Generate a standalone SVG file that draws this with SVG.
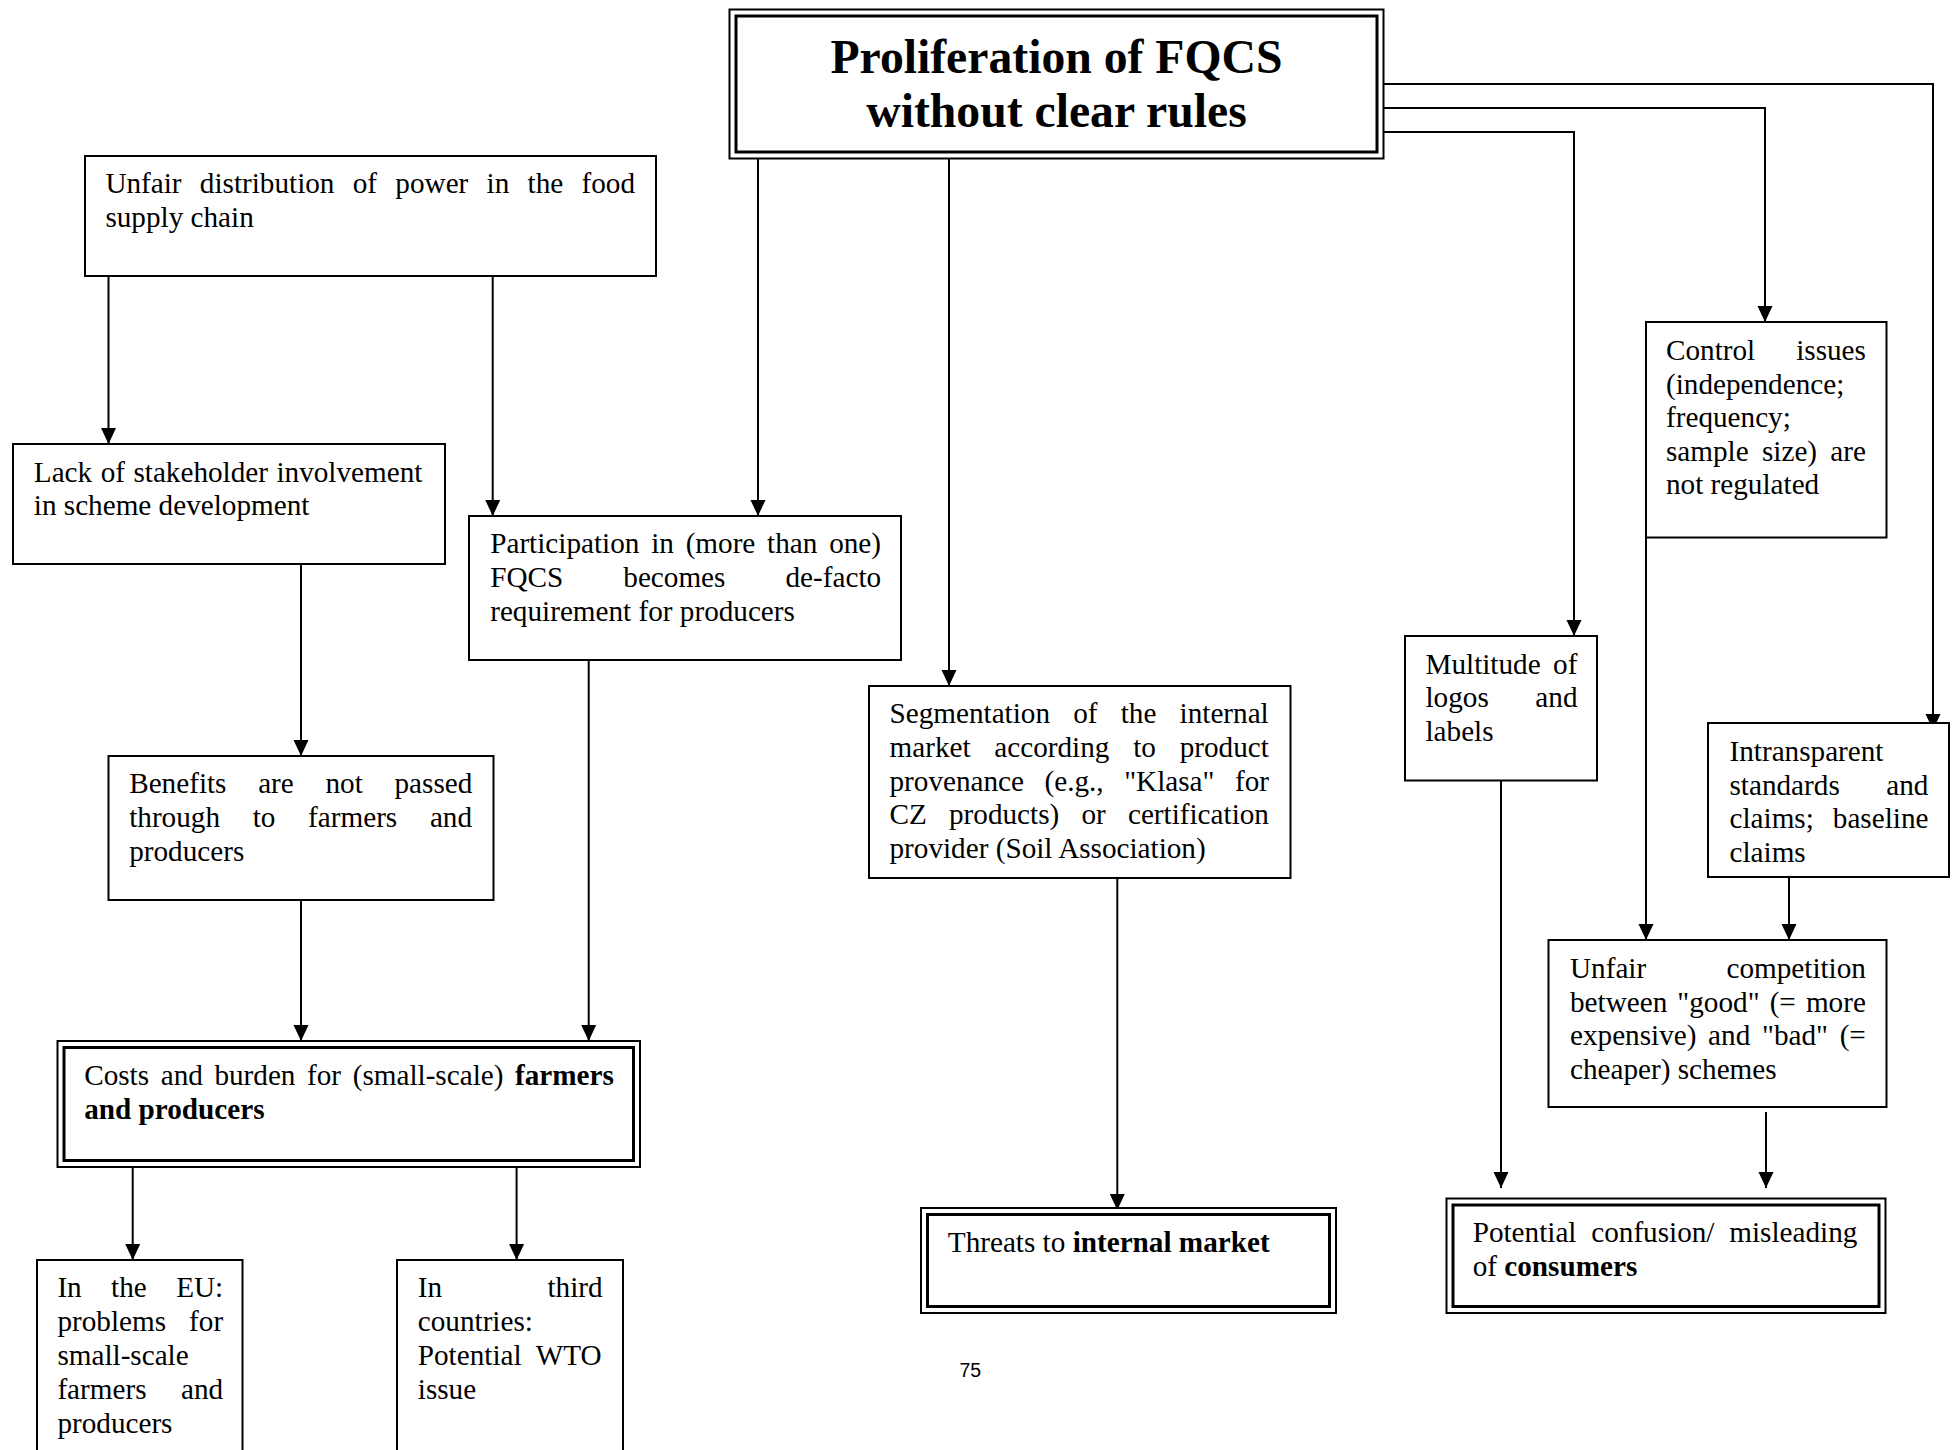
<svg xmlns="http://www.w3.org/2000/svg" width="1955" height="1450" viewBox="0 0 1955 1450">
<style>
.box{fill:#fff;stroke:#000;stroke-width:2}
.inner{fill:none;stroke:#000;stroke-width:3}
.t{font-family:"Liberation Serif","Times New Roman",serif;font-size:29.2px;fill:#000}
.b{font-weight:bold}
.title{font-family:"Liberation Serif","Times New Roman",serif;font-size:47.7px;font-weight:bold;text-anchor:middle;fill:#000}
.conn{fill:none;stroke:#000;stroke-width:2;marker-end:url(#arr)}
.pg{font-family:"Liberation Sans",Arial,sans-serif;font-size:19.5px;fill:#000}
</style>
<defs>
<marker id="arr" markerUnits="userSpaceOnUse" markerWidth="16" markerHeight="16" viewBox="0 0 16 16" refX="16" refY="8" orient="auto">
<path d="M0,0.5 L16,8 L0,15.5 z" fill="#000"/>
</marker>
</defs>
<rect width="1955" height="1450" fill="#fff"/>

<g id="connectors">
<path class="conn" d="M108.5,276 V444"/>
<path class="conn" d="M492.7,276 V516"/>
<path class="conn" d="M758,158 V516"/>
<path class="conn" d="M949,158 V686"/>
<path class="conn" d="M1384,132 H1574 V636"/>
<path class="conn" d="M1384,108 H1765 V322"/>
<path class="conn" d="M1384,84 H1933 V730"/>
<path class="conn" d="M301,564 V756"/>
<path class="conn" d="M301,900 V1041"/>
<path class="conn" d="M588.7,660 V1041"/>
<path class="conn" d="M132.7,1167 V1260"/>
<path class="conn" d="M516.6,1167 V1260"/>
<path class="conn" d="M1117.3,878 V1210"/>
<path class="conn" d="M1501,780 V1188"/>
<path class="conn" d="M1646,537 V940"/>
<path class="conn" d="M1789,877 V940"/>
<path class="conn" d="M1766,1112 V1188"/>
</g>

<g id="n-title">
<rect class="box" x="729.5" y="9.5" width="654" height="149"/>
<rect class="inner" x="736" y="16" width="641" height="136"/>
<text class="title" x="1056.5" y="73">Proliferation of FQCS</text>
<text class="title" x="1056.5" y="127">without clear rules</text>
</g>

<g id="n-unfair-power">
<rect class="box" x="85" y="156" width="571" height="120"/>
<text class="t" x="105.4" y="193.3" style="word-spacing:11px">Unfair distribution of power in the food</text>
<text class="t" x="105.4" y="227">supply chain</text>
</g>

<g id="n-lack">
<rect class="box" x="13" y="444" width="432" height="120"/>
<text class="t" x="33.8" y="481.7" style="word-spacing:1.2px">Lack of stakeholder involvement</text>
<text class="t" x="33.8" y="515.3">in scheme development</text>
</g>

<g id="n-participation">
<rect class="box" x="469" y="516" width="432" height="144"/>
<text class="t" x="490.2" y="553.3" style="word-spacing:4.5px">Participation in (more than one)</text>
<text class="t" x="490.2" y="587" style="word-spacing:52.8px">FQCS becomes de-facto</text>
<text class="t" x="490.2" y="620.5">requirement for producers</text>
</g>

<g id="n-benefits">
<rect class="box" x="108.5" y="756" width="385" height="144"/>
<text class="t" x="129.2" y="793.3" style="word-spacing:24.4px">Benefits are not passed</text>
<text class="t" x="129.2" y="827" style="word-spacing:25.4px">through to farmers and</text>
<text class="t" x="129.2" y="860.5">producers</text>
</g>

<g id="n-costs">
<rect class="box" x="57.5" y="1041" width="582.5" height="126"/>
<rect class="inner" x="64" y="1047.5" width="569.5" height="113"/>
<text class="t" x="84.2" y="1085" style="word-spacing:4.3px">Costs and burden for (small-scale) <tspan class="b">farmers</tspan></text>
<text class="t b" x="84.2" y="1119">and producers</text>
</g>

<g id="n-eu">
<rect class="box" x="37" y="1260" width="205.5" height="220"/>
<text class="t" x="57.4" y="1297" style="word-spacing:22.1px">In the EU:</text>
<text class="t" x="57.4" y="1331" style="word-spacing:15.8px">problems for</text>
<text class="t" x="57.4" y="1365">small-scale</text>
<text class="t" x="57.4" y="1399" style="word-spacing:27.2px">farmers and</text>
<text class="t" x="57.4" y="1433">producers</text>
</g>

<g id="n-third">
<rect class="box" x="397" y="1260" width="226" height="220"/>
<text class="t" x="417.8" y="1297" style="word-spacing:98.1px">In third</text>
<text class="t" x="417.8" y="1331">countries:</text>
<text class="t" x="417.8" y="1365" style="word-spacing:7.3px">Potential WTO</text>
<text class="t" x="417.8" y="1399">issue</text>
</g>

<g id="n-segmentation">
<rect class="box" x="869" y="686" width="421.5" height="192"/>
<text class="t" x="889.5" y="723.3" style="word-spacing:15.9px">Segmentation of the internal</text>
<text class="t" x="889.5" y="757" style="word-spacing:16.5px">market according to product</text>
<text class="t" x="889.5" y="790.5" style="word-spacing:13.2px">provenance (e.g., "Klasa" for</text>
<text class="t" x="889.5" y="824" style="word-spacing:14.9px">CZ products) or certification</text>
<text class="t" x="889.5" y="857.7">provider (Soil Association)</text>
</g>

<g id="n-threats">
<rect class="box" x="921" y="1208" width="415" height="105"/>
<rect class="inner" x="927.5" y="1214.5" width="402" height="92"/>
<text class="t" x="947.8" y="1252">Threats to <tspan class="b">internal market</tspan></text>
</g>

<g id="n-multitude">
<rect class="box" x="1405" y="636" width="192" height="144.5"/>
<text class="t" x="1425.5" y="673.5" style="word-spacing:5.2px">Multitude of</text>
<text class="t" x="1425.5" y="707" style="word-spacing:39.3px">logos and</text>
<text class="t" x="1425.5" y="740.7">labels</text>
</g>

<g id="n-control">
<rect class="box" x="1646" y="322" width="240.5" height="215.5"/>
<text class="t" x="1666" y="360" style="word-spacing:33.7px">Control issues</text>
<text class="t" x="1666" y="393.5">(independence;</text>
<text class="t" x="1666" y="427">frequency;</text>
<text class="t" x="1666" y="460.5" style="word-spacing:6px">sample size) are</text>
<text class="t" x="1666" y="494">not regulated</text>
</g>

<g id="n-intransparent">
<rect class="box" x="1708" y="723" width="241" height="154"/>
<text class="t" x="1729.5" y="761">Intransparent</text>
<text class="t" x="1729.5" y="794.6" style="word-spacing:39.2px">standards and</text>
<text class="t" x="1729.5" y="828.2" style="word-spacing:11.7px">claims; baseline</text>
<text class="t" x="1729.5" y="861.8">claims</text>
</g>

<g id="n-competition">
<rect class="box" x="1548.5" y="940" width="338" height="167"/>
<text class="t" x="1570" y="978" style="word-spacing:73px">Unfair competition</text>
<text class="t" x="1570" y="1011.6" style="word-spacing:2.8px">between "good" (= more</text>
<text class="t" x="1570" y="1045.2" style="word-spacing:4.4px">expensive) and "bad" (=</text>
<text class="t" x="1570" y="1078.8">cheaper) schemes</text>
</g>

<g id="n-consumers">
<rect class="box" x="1446.5" y="1198.5" width="439" height="114.5"/>
<rect class="inner" x="1453" y="1205" width="426" height="101.5"/>
<text class="t" x="1472.7" y="1242" style="word-spacing:7.5px">Potential confusion/ misleading</text>
<text class="t" x="1472.7" y="1276">of <tspan class="b">consumers</tspan></text>
</g>

<text class="pg" x="959.5" y="1377">75</text>
</svg>
